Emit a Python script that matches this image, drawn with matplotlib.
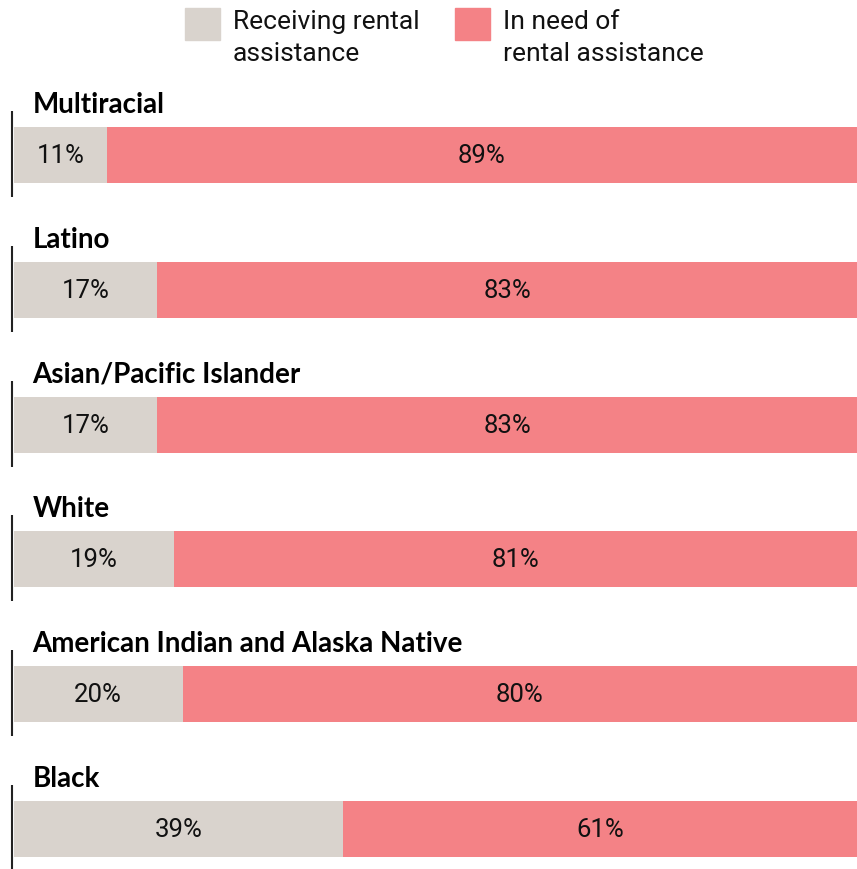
import matplotlib.pyplot as plt

groups = ["Multiracial", "Latino", "Asian/Pacific Islander", "White",
          "American Indian and Alaska Native", "Black"]
receiving = [11, 17, 17, 19, 20, 39]
in_need = [89, 83, 83, 81, 80, 61]
series_names = ["Receiving rental\nassistance", "In need of\nrental assistance"]

gray = "#D9D3CD"
red = "#F48286"

plt.rcParams["font.family"] = ["Roboto", "DejaVu Sans"]

W, H = 857, 869
fig = plt.figure(figsize=(W / 100, H / 100), dpi=100)
ax = fig.add_axes([14 / W, 0, 843 / W, 1])
ax.set_xlim(0, 100)
ax.set_ylim(H, 0)
ax.axis("off")

centers = [155 + 134.8 * i for i in range(len(groups))]
bar_h = 56

ax.barh(centers, receiving, height=bar_h, color=gray, edgecolor="none")
ax.barh(centers, in_need, left=receiving, height=bar_h, color=red, edgecolor="none")

for y, g, r, n in zip(centers, groups, receiving, in_need):
    ax.text(r / 2, y + 1, f"{r}%", ha="center", va="center", fontsize=18.5,
            color="#111111")
    ax.text(r + n / 2, y + 1, f"{n}%", ha="center", va="center", fontsize=18.5,
            color="#111111")
    ax.text(2.2, y - 42, g, ha="left", va="baseline", fontsize=20,
            fontweight="bold", family=["Lato", "DejaVu Sans"], color="black")
    ax.plot([-0.25, -0.25], [y - 44, y + 42], color="#222222", lw=1.5,
            clip_on=False, solid_capstyle="butt")

# legend
for x0, col, lab in [(185, gray, series_names[0]), (455, red, series_names[1])]:
    fig.patches.append(plt.Rectangle((x0 / W, 1 - 40 / H), 35 / W, 32 / H,
                                     transform=fig.transFigure, color=col))
    fig.text((x0 + 48) / W, 1 - 10 / H, lab, ha="left", va="top", fontsize=19,
             linespacing=1.4, color="#111111")

fig.savefig("out.png", dpi=100)
